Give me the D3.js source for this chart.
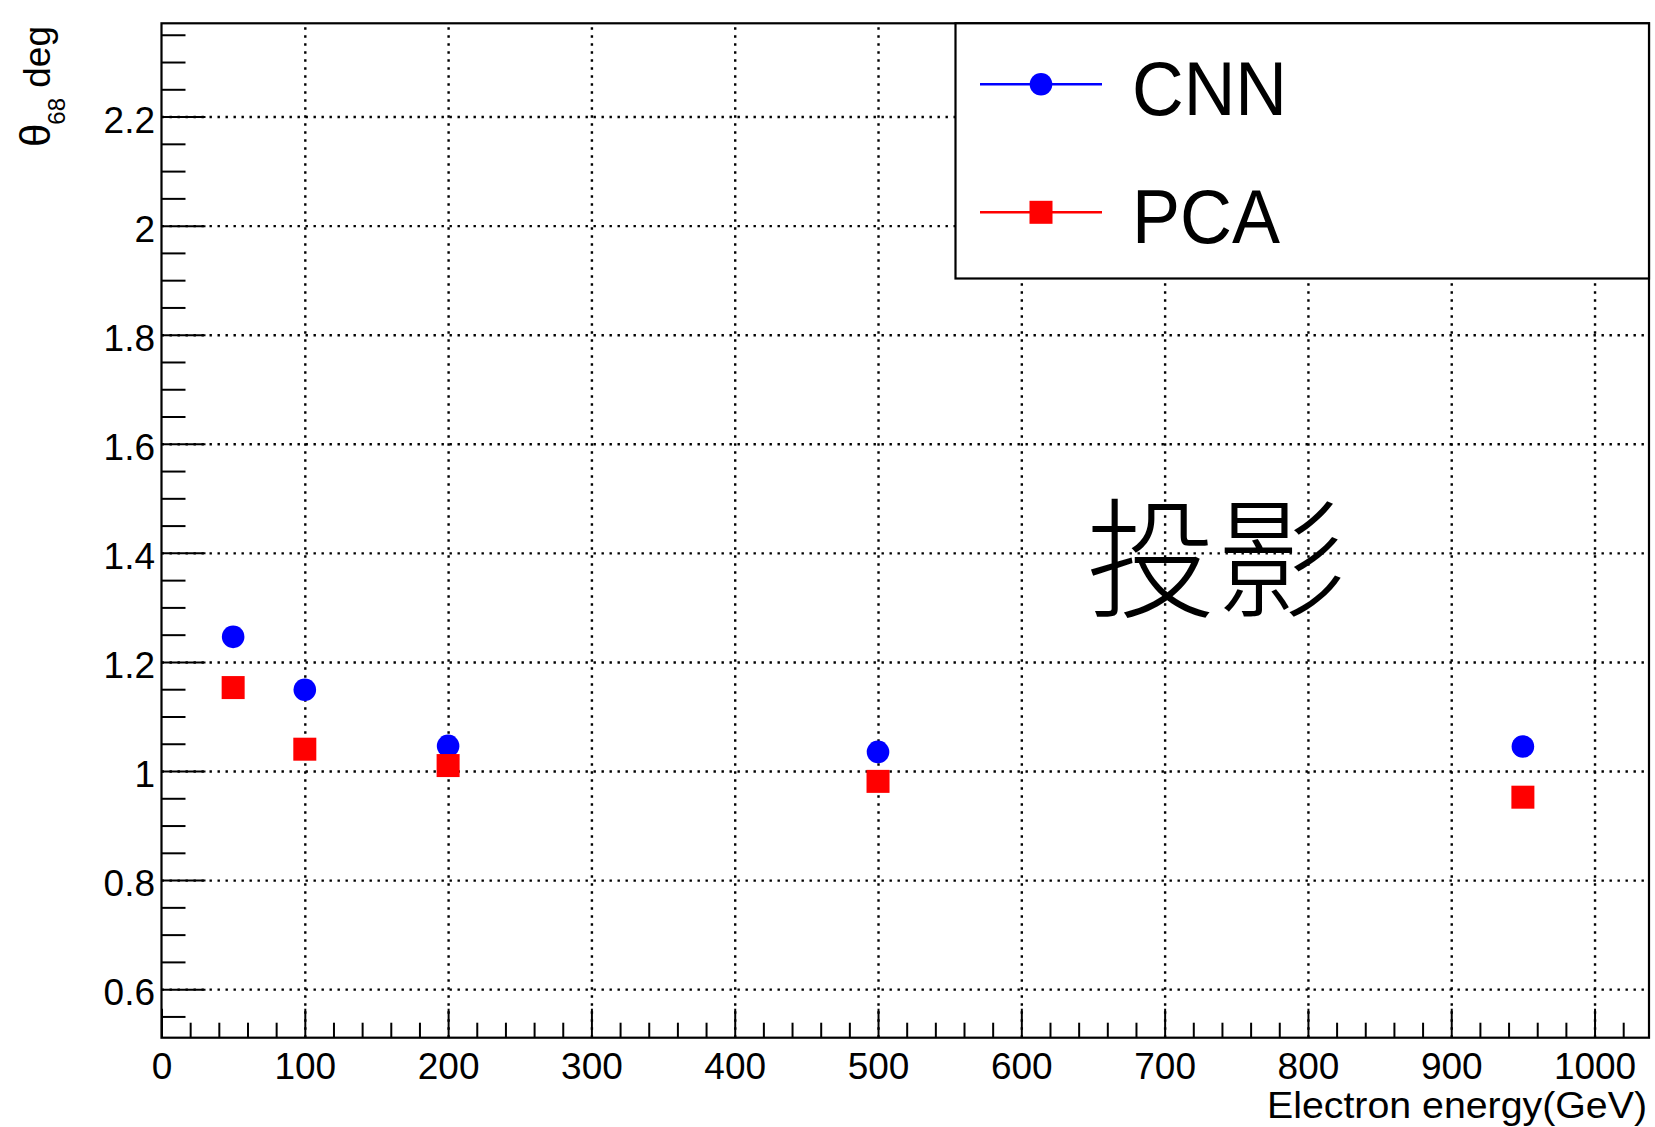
<!DOCTYPE html>
<html>
<head>
<meta charset="utf-8">
<script src="https://cdn.jsdelivr.net/npm/d3@7"></script>
<style>
  html, body { margin: 0; padding: 0; background: #fff; }
  svg { display: block; }
  text { font-family: "Liberation Sans", Arial, Helvetica, sans-serif; fill: #000; }
</style>
</head>
<body>
<div id="chart"></div>
<script>
// data
const energies = [50, 100, 200, 500, 950]
const cnnTheta = [1.246, 1.149, 1.046, 1.035, 1.045]
const pcaTheta = [1.153, 1.040, 1.010, 0.981, 0.952]
const seriesNames = ['CNN', 'PCA']
const seriesColors = ['#0000ff', '#ff0000']

const xTicks = [0, 100, 200, 300, 400, 500, 600, 700, 800, 900, 1000]
const yTicks = [0.6, 0.8, 1, 1.2, 1.4, 1.6, 1.8, 2, 2.2]
const xMinor = d3.range(20, 1038, 20).filter(v => v % 100 !== 0)
const yMinor = d3.range(0.55, 2.37, 0.05).map(v => +v.toFixed(2)).filter(v => !yTicks.includes(v))

const width = 1655,
  height = 1127

var frame = { left: 161.5, right: 1649, top: 23.3, bottom: 1037.7 }

var x = d3.scaleLinear().domain([0, 1038]).range([frame.left, frame.right])
var y = d3.scaleLinear().domain([0.511, 2.371]).range([frame.bottom, frame.top])

var svg = d3
  .select('#chart')
  .append('svg')
  .attr('width', width)
  .attr('height', height)

// grid
var dotted = g =>
  g.selectAll('.tick line')
    .attr('stroke', '#000')
    .attr('stroke-width', 2.4)
    .attr('stroke-dasharray', '2.4 5.6')

svg.append('g')
  .attr('transform', 'translate(0,' + frame.bottom + ')')
  .call(d3.axisBottom(x).tickValues(xTicks.slice(1)).tickSize(-(frame.bottom - frame.top)).tickFormat(''))
  .call(g => g.select('.domain').remove())
  .call(dotted)

svg.append('g')
  .attr('transform', 'translate(' + frame.left + ',0)')
  .call(d3.axisLeft(y).tickValues(yTicks).tickSize(-(frame.right - frame.left)).tickFormat(''))
  .call(g => g.select('.domain').remove())
  .call(dotted)

// minor ticks
svg.append('g')
  .attr('transform', 'translate(0,' + frame.bottom + ')')
  .call(d3.axisBottom(x).tickValues(xMinor).tickSize(-15).tickFormat(''))
  .call(g => g.select('.domain').remove())
  .call(g => g.selectAll('.tick line').attr('stroke-width', 2))

svg.append('g')
  .attr('transform', 'translate(' + frame.left + ',0)')
  .call(d3.axisLeft(y).tickValues(yMinor).tickSize(-24).tickFormat(''))
  .call(g => g.select('.domain').remove())
  .call(g => g.selectAll('.tick line').attr('stroke-width', 2))

// major ticks + labels
var xAxis = svg.append('g')
  .attr('transform', 'translate(0,' + frame.bottom + ')')
  .call(d3.axisBottom(x).tickValues(xTicks).tickSize(-29).tickPadding(15.5).tickFormat(d3.format('d')))
xAxis.select('.domain').remove()
xAxis.selectAll('.tick line').attr('stroke-width', 2)
xAxis.selectAll('.tick text').attr('font-size', 37).style('font-family', '"Liberation Sans", Arial, sans-serif')

var yAxis = svg.append('g')
  .attr('transform', 'translate(' + frame.left + ',0)')
  .call(d3.axisLeft(y).tickValues(yTicks).tickSize(-44).tickPadding(6.5).tickFormat(d => String(+d.toFixed(1))))
yAxis.select('.domain').remove()
yAxis.selectAll('.tick line').attr('stroke-width', 2)
yAxis.selectAll('.tick text').attr('font-size', 37).attr('dy', '0.42em').style('font-family', '"Liberation Sans", Arial, sans-serif')

// frame
svg.append('rect')
  .attr('x', frame.left)
  .attr('y', frame.top)
  .attr('width', frame.right - frame.left)
  .attr('height', frame.bottom - frame.top)
  .attr('fill', 'none')
  .attr('stroke', '#000')
  .attr('stroke-width', 2.2)

// axis titles
svg.append('text')
  .attr('x', 1647)
  .attr('y', 1118)
  .attr('text-anchor', 'end')
  .attr('font-size', 37.5)
  .attr('textLength', 380)
  .attr('lengthAdjust', 'spacingAndGlyphs')
  .text('Electron energy(GeV)')

var yt = svg.append('text')
  .attr('transform', 'translate(50,26) rotate(-90)')
  .attr('text-anchor', 'end')
  .attr('font-size', 37)
yt.append('tspan').attr('font-size', 42).text('θ')
yt.append('tspan').attr('font-size', 24).attr('dy', 15).attr('dx', -1).text('68')
yt.append('tspan').attr('dy', -15).text(' deg')

// the CJK note
svg.append('text')
  .attr('x', 1086)
  .attr('y', 607)
  .style('font-family', '"Noto Sans CJK SC", "Noto Sans CJK JP", sans-serif')
  .style('font-weight', 300)
  .attr('font-size', 130)
  .text('投影')

// data points
var points = energies.map((e, i) => ({ e: e, cnn: cnnTheta[i], pca: pcaTheta[i] }))

svg.append('g')
  .selectAll('circle')
  .data(points)
  .enter()
  .append('circle')
  .attr('cx', d => x(d.e))
  .attr('cy', d => y(d.cnn))
  .attr('r', 11.3)
  .attr('fill', seriesColors[0])

var sq = 23
svg.append('g')
  .selectAll('rect')
  .data(points)
  .enter()
  .append('rect')
  .attr('x', d => x(d.e) - sq / 2)
  .attr('y', d => y(d.pca) - sq / 2)
  .attr('width', sq)
  .attr('height', sq)
  .attr('fill', seriesColors[1])

// legend
var legend = svg.append('g')
legend.append('rect')
  .attr('x', 955.5)
  .attr('y', frame.top)
  .attr('width', frame.right - 955.5)
  .attr('height', 278.5 - frame.top)
  .attr('fill', '#fff')
  .attr('stroke', '#000')
  .attr('stroke-width', 2.2)

var rowY = [84.3, 212.3]
var labelWidth = [155, 148]
seriesNames.forEach((name, i) => {
  var row = legend.append('g').attr('transform', 'translate(0,' + rowY[i] + ')')
  row.append('line')
    .attr('x1', 980).attr('x2', 1102)
    .attr('stroke', seriesColors[i])
    .attr('stroke-width', 2.5)
  if (i === 0) {
    row.append('circle').attr('cx', 1041).attr('cy', 0).attr('r', 11.3).attr('fill', seriesColors[i])
  } else {
    row.append('rect').attr('x', 1041 - 11.5).attr('y', -11.5).attr('width', 23).attr('height', 23).attr('fill', seriesColors[i])
  }
  row.append('text')
    .attr('x', 1132)
    .attr('y', 30.5)
    .attr('font-size', 76)
    .attr('textLength', labelWidth[i])
    .attr('lengthAdjust', 'spacingAndGlyphs')
    .text(name)
})
</script>
</body>
</html>
